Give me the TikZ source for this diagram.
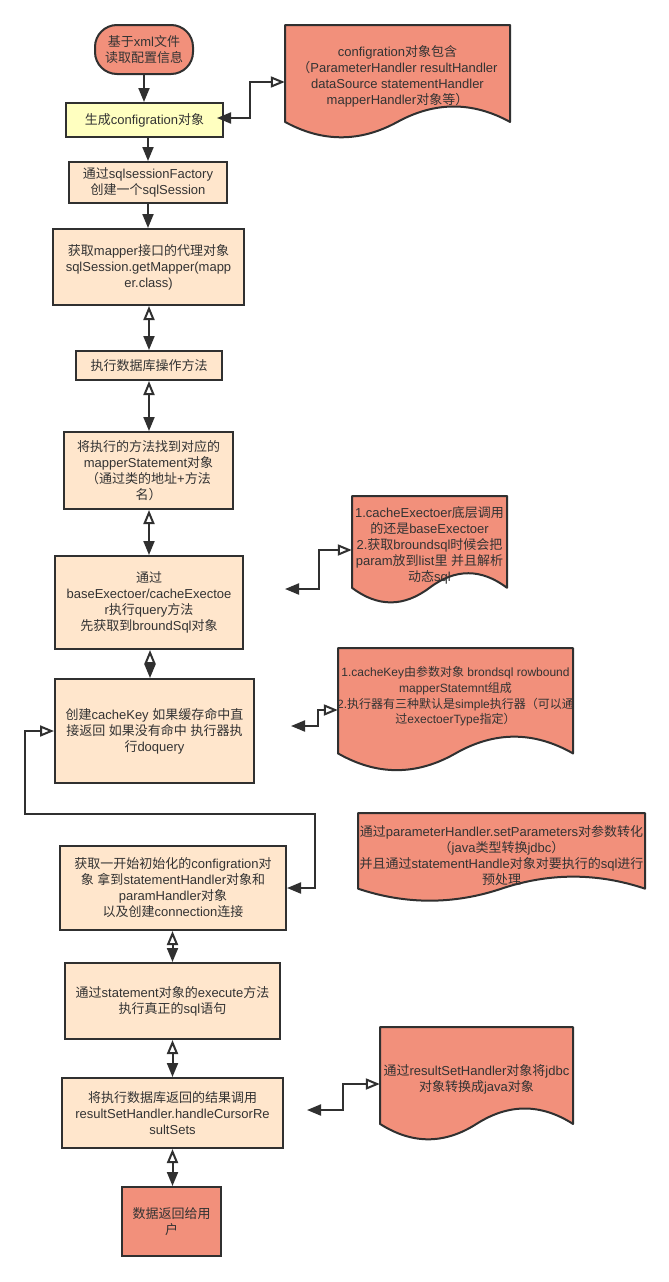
\documentclass[tikz,border=0pt]{standalone}
\usepackage{fontspec}
\usetikzlibrary{arrows.meta}
\setmainfont{Liberation Sans}
\newfontfamily\cjk{Noto Sans CJK SC}
\newfontfamily\latf{Liberation Sans}
\XeTeXinterchartokenstate=1
\newXeTeXintercharclass\CJKcls
\newcount\cjkc
\cjkc="4E00 \loop \XeTeXcharclass\cjkc=\CJKcls \advance\cjkc by 1 \ifnum\cjkc<"A000 \repeat
\cjkc="3000 \loop \XeTeXcharclass\cjkc=\CJKcls \advance\cjkc by 1 \ifnum\cjkc<"3040 \repeat
\cjkc="FF00 \loop \XeTeXcharclass\cjkc=\CJKcls \advance\cjkc by 1 \ifnum\cjkc<"FFF0 \repeat
\XeTeXinterchartoks 0 \CJKcls={\cjk}
\XeTeXinterchartoks 4095 \CJKcls={\cjk}
\XeTeXinterchartoks \CJKcls 0={\latf}
\XeTeXinterchartoks \CJKcls 4095={\latf}
\definecolor{salmon}{HTML}{F2907B}
\definecolor{peach}{HTML}{FFE6CC}
\definecolor{lyellow}{HTML}{FFFFC0}
\definecolor{strk}{HTML}{303030}
\definecolor{txt}{HTML}{333333}
\tikzset{
  base/.style={draw=strk, line width=2pt, text=txt, align=center, inner sep=0pt},
  pbox/.style={base, fill=peach},
  sbox/.style={base, fill=salmon},
  ybox/.style={base, fill=lyellow},
  anch/.style={inner sep=0pt},
  dtext/.style={text=txt, align=center, inner sep=0pt},
  docst/.style={draw=strk, line width=2pt, fill=salmon, line join=round},
  conn/.style={draw=strk, line width=2pt},
  bi/.style={conn, {Triangle[open,length=14pt,width=11pt]}-{Triangle[length=14pt,width=11pt]}},
  fw/.style={conn, -{Triangle[length=14pt,width=11pt]}},
}
\newcommand\docshape[4]{%
  \draw[docst] (#1,#2) -- (#1+#3,#2) -- (#1+#3,#2+0.85*#4)
    .. controls (#1+5*#3/6,#2+0.67*#4) and (#1+2*#3/3,#2+0.67*#4) .. (#1+#3/2,#2+0.85*#4)
    .. controls (#1+#3/3,#2+1.03*#4) and (#1+#3/6,#2+1.03*#4) .. (#1,#2+0.85*#4) -- cycle;}
\begin{document}
\begin{tikzpicture}[x=1pt,y=-1pt,font=\fontsize{13}{16}\selectfont]
\useasboundingbox (0,0) rectangle (669,1282);
\fill[white] (0,0) rectangle (669,1282);

% main column
\node[sbox, rounded corners=22pt, minimum width=98pt, minimum height=49pt] (n1) at (144,49.5) {基于xml文件\\读取配置信息};
\node[ybox, minimum width=157pt, minimum height=34pt] (n2) at (144.5,120) {生成configration对象};
\node[pbox, minimum width=158pt, minimum height=41pt] (n3) at (148,182.5) {通过sqlsessionFactory\\创建一个sqlSession};
\node[pbox, minimum width=191pt, minimum height=76pt] (n4) at (148.5,267) {获取mapper接口的代理对象\\sqlSession.getMapper(mapp\\er.class)};
\node[pbox, minimum width=146pt, minimum height=29pt] (n5) at (149,365.5) {执行数据库操作方法};
\node[pbox, minimum width=169pt, minimum height=77pt] (n6) at (148.5,470.5) {将执行的方法找到对应的\\mapperStatement对象\\（通过类的地址+方法\\名）};
\node[pbox, minimum width=188pt, minimum height=93pt] (n7) at (149,602.5) {通过\\baseExectoer/cacheExectoe\\r执行query方法\\先获取到broundSql对象};
\node[pbox, minimum width=199pt, minimum height=104pt] (n8) at (154.5,731) {创建cacheKey 如果缓存命中直\\接返回 如果没有命中 执行器执\\行doquery};
\node[pbox, minimum width=226pt, minimum height=84pt] (n9) at (173,888) {获取一开始初始化的configration对\\象 拿到statementHandler对象和\\paramHandler对象\\以及创建connection连接};
\node[pbox, minimum width=215pt, minimum height=76pt] (n10) at (172.5,1001) {通过statement对象的execute方法\\执行真正的sql语句};
\node[pbox, minimum width=221pt, minimum height=70pt] (n11) at (172.5,1113) {将执行数据库返回的结果调用\\resultSetHandler.handleCursorRe\\sultSets};
\node[sbox, minimum width=99pt, minimum height=69pt] (n12) at (171.5,1221.5) {数据返回给用\\户};

% documents
\docshape{285}{25}{225}{114}
\node[anch, minimum width=225pt, minimum height=114pt] (d1) at (397.5,82) {};
\node[dtext] (d1t) at (397.5,76.5) {configration对象包含\\（ParameterHandler resultHandler\\dataSource statementHandler\\mapperHandler对象等）};

\docshape{352}{496}{155}{108}
\node[anch, minimum width=155pt, minimum height=108pt] (d2) at (429.5,550) {};
\node[dtext] (d2t) at (429.5,545.5) {1.cacheExectoer底层调用\\的还是baseExectoer\\2.获取broundsql时候会把\\param放到list里 并且解析\\动态sql};

\docshape{338}{648}{235}{124}
\node[anch, minimum width=235pt, minimum height=124pt] (d3) at (455.5,710) {};
\node[dtext, font=\fontsize{12}{15.7}\selectfont] (d3t) at (455.5,696.5) {1.cacheKey由参数对象 brondsql rowbound\\mapperStatemnt组成\\2.执行器有三种默认是simple执行器（可以通\\过exectoerType指定）};

\docshape{358}{813}{287}{89}
\node[anch, minimum width=287pt, minimum height=89pt] (d4) at (501.5,857.5) {};
\node[dtext] (d4t) at (501.5,856) {通过parameterHandler.setParameters对参数转化\\（java类型转换jdbc）\\并且通过statementHandle对象对要执行的sql进行\\预处理};

\docshape{380}{1027}{193}{114}
\node[anch, minimum width=193pt, minimum height=114pt] (d5) at (476.5,1084) {};
\node[dtext] (d5t) at (476.5,1079) {通过resultSetHandler对象将jdbc\\对象转换成java对象};

% free ends
\coordinate (e1) at (217,118);
\coordinate (e2) at (285,589);
\coordinate (e3) at (291,726);
\coordinate (e5) at (307,1110);

% vertical connectors
\draw[fw] (n1.south) -- (n1.south |- n2.north);
\draw[fw] (n3.north |- n2.south) -- (n3.north);
\draw[fw] (n3.south) -- (n3.south |- n4.north);
\draw[bi] (n5.north |- n4.south) -- (n5.north);
\draw[bi] (n5.south) -- (n5.south |- n6.north);
\draw[bi] (n7.north |- n6.south) -- (n7.north);
\draw[bi] ([xshift=1pt]n7.south) -- ([xshift=1pt]n7.south |- n8.north);
\draw[bi] (n10.north |- n9.south) -- (n10.north);
\draw[bi] (n10.south) -- (n10.south |- n11.north);
\draw[bi] (n11.south) -- (n11.south |- n12.north);

% side connectors
\draw[bi] (d1.west) -- (250,82) -- (250,118) -- (e1);
\draw[bi] (d2.west) -- (319,550) -- (319,589) -- (e2);
\draw[bi] (d3.west) -- (318,710) -- (318,726) -- (e3);
\draw[bi] (d5.west) -- (343,1084) -- (343,1110) -- (e5);
\draw[bi] (n8.west) -- (25,731) -- (25,814) -- (315,814) -- (315,888) -- (n9.east);
\end{tikzpicture}
\end{document}
